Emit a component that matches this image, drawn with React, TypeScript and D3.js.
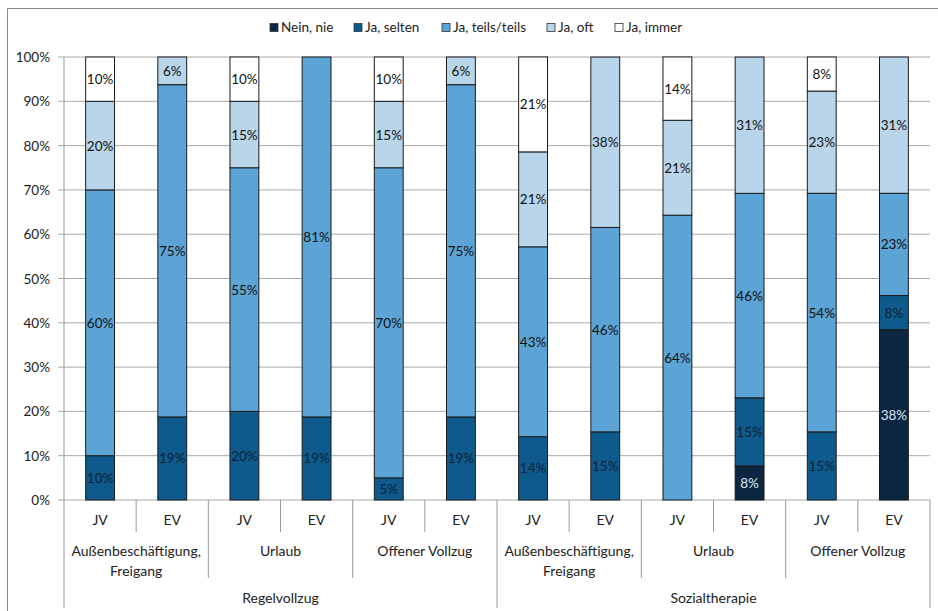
import React from "react";
import * as d3 from "d3";

const seriesNames = ["Nein, nie", "Ja, selten", "Ja, teils/teils", "Ja, oft", "Ja, immer"];
const seriesColors = ["#0b2640", "#0f5a8c", "#5ba4d5", "#b8d5ea", "#ffffff"];
const labelColors = ["#dce9f5", "#0b2236", "#111111", "#111111", "#111111"];

const barLabels = ["JV", "EV", "JV", "EV", "JV", "EV", "JV", "EV", "JV", "EV", "JV", "EV"];
const groupLabels = [["Außenbeschäftigung,", "Freigang"], ["Urlaub"], ["Offener Vollzug"], ["Außenbeschäftigung,", "Freigang"], ["Urlaub"], ["Offener Vollzug"]];
const topLabels = ["Regelvollzug", "Sozialtherapie"];

const neinNie = [0, 0, 0, 0, 0, 0, 0, 0, 0, 7.69, 0, 38.46];
const jaSelten = [10, 18.75, 20, 18.75, 5, 18.75, 14.29, 15.38, 0, 15.38, 15.38, 7.69];
const jaTeils = [60, 75, 55, 81.25, 70, 75, 42.86, 46.15, 64.29, 46.15, 53.85, 23.08];
const jaOft = [20, 6.25, 15, 0, 15, 6.25, 21.43, 38.46, 21.43, 30.77, 23.08, 30.77];
const jaImmer = [10, 0, 10, 0, 10, 0, 21.43, 0, 14.29, 0, 7.69, 0];

const yTicks = [0, 10, 20, 30, 40, 50, 60, 70, 80, 90, 100];

const FONT = "Lato, 'Open Sans', sans-serif";

export default function App() {
  const W = 938, H = 611;
  const left = 64, right = 930, top = 57, bottom = 500;
  const series = [neinNie, jaSelten, jaTeils, jaOft, jaImmer];
  const idx = d3.range(barLabels.length);
  const x = d3.scaleBand<number>().domain(idx).range([left, right]).paddingInner(0.6).paddingOuter(0.3);
  const band = (right - left) / barLabels.length;
  const y = d3.scaleLinear().domain([0, 100]).range([bottom, top]);

  const table = idx.map((i) => {
    const o: any = { i };
    seriesNames.forEach((s, k) => (o[s] = series[k][i]));
    return o;
  });
  const stacked = d3.stack<any>().keys(seriesNames)(table);

  const legendX = [270, 354, 442, 547, 615];

  return (
    <svg width={W} height={H} style={{ position: "absolute", left: 0, top: 0 }} fontFamily={FONT}>
      <rect x={0} y={0} width={W} height={H} fill="#fff" />
      <line x1={7.5} y1={8.5} x2={938} y2={8.5} stroke="#888" />
      <line x1={7.5} y1={8.5} x2={7.5} y2={611} stroke="#888" />
      {/* legend */}
      {seriesNames.map((s, k) => (
        <g key={s}>
          <rect x={legendX[k]} y={23.5} width={8} height={8} fill={seriesColors[k]} stroke="#333" strokeWidth={0.8} />
          <text x={legendX[k] + 11} y={32} fontSize={13.5} fill="#222">{s}</text>
        </g>
      ))}
      {/* grid */}
      {yTicks.map((t) => (
        <g key={t}>
          <line x1={left - 6} x2={right} y1={y(t)} y2={y(t)} stroke="#a8a8a8" strokeWidth={1} />
          <text x={50} y={y(t) + 5} fontSize={13.5} textAnchor="end" fill="#222">{t}%</text>
        </g>
      ))}
      <line x1={left} x2={left} y1={top} y2={608} stroke="#999" />
      {/* bars */}
      {stacked.map((layer, k) => (
        <g key={k}>
          {layer.map((d, i) => {
            const h = y(d[0]) - y(d[1]);
            if (h <= 0) return null;
            return (
              <rect key={i} x={x(i)} y={y(d[1])} width={x.bandwidth()} height={h} fill={seriesColors[k]} stroke="#1a1a1a" strokeWidth={1} />
            );
          })}
        </g>
      ))}
      {stacked.map((layer, k) => (
        <g key={"l" + k}>
          {layer.map((d, i) => {
            const v = d[1] - d[0];
            if (v <= 0) return null;
            return (
              <text key={i} x={(x(i) as number) + x.bandwidth() / 2} y={y((d[0] + d[1]) / 2) + 5} fontSize={13.5} textAnchor="middle" fill={labelColors[k]}>
                {Math.round(v)}%
              </text>
            );
          })}
        </g>
      ))}
      {/* category axis */}
      {idx.map((i) => (
        <text key={"b" + i} x={left + band * (i + 0.5)} y={525} fontSize={14} textAnchor="middle" fill="#222">{barLabels[i]}</text>
      ))}
      {d3.range(1, 12).map((i) => {
        const xx = left + band * i;
        const len = i % 6 === 0 ? 608 : i % 2 === 0 ? 578 : 532;
        return <line key={"s" + i} x1={xx} x2={xx} y1={bottom} y2={len} stroke="#999" />;
      })}
      <line x1={right} x2={right} y1={bottom} y2={608} stroke="#999" />
      {groupLabels.map((g, j) => (
        <text key={"g" + j} x={left + band * (2 * j + 1)} y={556} fontSize={14} textAnchor="middle" fill="#222">
          {g.map((ln, m) => (
            <tspan key={m} x={left + band * (2 * j + 1)} dy={m === 0 ? 0 : 20}>{ln}</tspan>
          ))}
        </text>
      ))}
      {topLabels.map((t, j) => (
        <text key={"t" + j} x={left + band * (6 * j + 3)} y={603} fontSize={14} textAnchor="middle" fill="#222">{t}</text>
      ))}
    </svg>
  );
}
